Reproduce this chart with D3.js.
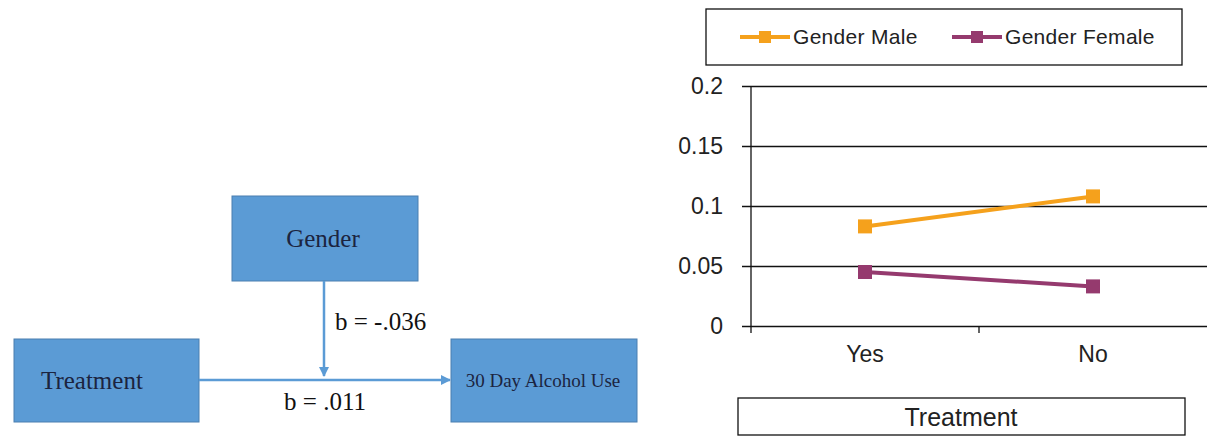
<!DOCTYPE html>
<html>
<head>
<meta charset="utf-8">
<script src="https://cdn.jsdelivr.net/npm/d3@7"></script>
<style>
  html, body { margin: 0; padding: 0; background: #fff; }
  svg { display: block; }
</style>
</head>
<body>
<svg id="chart" width="1217" height="445"></svg>
<script>
// Moderation path diagram (left) and interaction plot (right)

// Interaction plot data
const categories = ["Yes", "No"];
const seriesNames = ["Gender Male", "Gender Female"];
const maleValues = [0.083, 0.108];
const femaleValues = [0.045, 0.033];
const yTicks = [0, 0.05, 0.1, 0.15, 0.2];
const yTickLabels = ["0", "0.05", "0.1", "0.15", "0.2"];
const xAxisTitle = "Treatment";

// Path diagram content
const diagramNodes = ["Gender", "Treatment", "30 Day Alcohol Use"];
const pathLabels = ["b = -.036", "b = .011"];

const svg = d3.select("#chart");
const sansFont = "'Liberation Sans', Arial, sans-serif";
const serifFont = "'Liberation Serif', 'Times New Roman', serif";
const colors = ["#F5A11C", "#953A6E"];
const boxFill = "#5B9BD5";
const boxStroke = "#4A7FB0";
const boxText = "#1B2440";

// ---------- Path diagram ----------
const diag = svg.append("g");
const defs = svg.append("defs");
defs.append("marker")
  .attr("id", "arrowhead")
  .attr("viewBox", "0 0 10 10")
  .attr("refX", 9).attr("refY", 5)
  .attr("markerWidth", 4).attr("markerHeight", 4)
  .attr("orient", "auto")
  .append("path")
  .attr("d", "M0,0 L10,5 L0,10 z")
  .attr("fill", boxFill);

const boxes = [
  { name: diagramNodes[0], x: 232, y: 196, w: 186, h: 85, size: 25, tx: 323, anchor: "middle" },
  { name: diagramNodes[1], x: 14, y: 339, w: 185, h: 83, size: 25, tx: 41, anchor: "start" },
  { name: diagramNodes[2], x: 451, y: 339, w: 186, h: 83, size: 19, tx: 543, anchor: "middle" }
];

diag.selectAll("rect.node").data(boxes).join("rect")
  .attr("class", "node")
  .attr("x", d => d.x).attr("y", d => d.y)
  .attr("width", d => d.w).attr("height", d => d.h)
  .attr("fill", boxFill)
  .attr("stroke", boxStroke)
  .attr("stroke-width", 1);

diag.selectAll("text.node").data(boxes).join("text")
  .attr("class", "node")
  .attr("x", d => d.tx)
  .attr("y", d => d.y + d.h / 2)
  .attr("dy", "0.35em")
  .attr("text-anchor", d => d.anchor)
  .attr("font-family", serifFont)
  .attr("font-size", d => d.size)
  .attr("fill", boxText)
  .text(d => d.name);

// Treatment -> outcome
diag.append("line")
  .attr("x1", 199).attr("y1", 380)
  .attr("x2", 450).attr("y2", 380)
  .attr("stroke", boxFill).attr("stroke-width", 2.5)
  .attr("marker-end", "url(#arrowhead)");

// Gender -> path (moderator)
diag.append("line")
  .attr("x1", 324).attr("y1", 281)
  .attr("x2", 324).attr("y2", 376)
  .attr("stroke", boxFill).attr("stroke-width", 2.5)
  .attr("marker-end", "url(#arrowhead)");

diag.append("text")
  .attr("x", 335).attr("y", 330)
  .attr("font-family", serifFont).attr("font-size", 25)
  .attr("fill", "#111")
  .text(pathLabels[0]);

diag.append("text")
  .attr("x", 325).attr("y", 410)
  .attr("text-anchor", "middle")
  .attr("font-family", serifFont).attr("font-size", 25)
  .attr("fill", "#111")
  .text(pathLabels[1]);

// ---------- Interaction plot ----------
const plot = { left: 751, right: 1207, top: 86, bottom: 326 };

const x = d3.scaleBand()
  .domain(categories)
  .range([plot.left, plot.right])
  .paddingInner(0).paddingOuter(0);

const y = d3.scaleLinear()
  .domain([0, 0.2])
  .range([plot.bottom, plot.top]);

// Gridlines with left tick marks and labels
const yAxis = d3.axisLeft(y)
  .tickValues(yTicks)
  .tickFormat((d, i) => yTickLabels[i])
  .tickSize(-(plot.right - plot.left + 9))
  .tickPadding(19);

const gy = svg.append("g")
  .attr("transform", `translate(${plot.left - 9},0)`)
  .call(yAxis);
gy.select(".domain").remove();
gy.selectAll(".tick line").attr("stroke", "#111").attr("stroke-width", 1.3);
gy.selectAll(".tick text")
  .attr("font-family", sansFont)
  .attr("font-size", 23)
  .attr("fill", "#222");

// Vertical axis line
svg.append("line")
  .attr("x1", plot.left).attr("x2", plot.left)
  .attr("y1", plot.top).attr("y2", plot.bottom + 7)
  .attr("stroke", "#111").attr("stroke-width", 1.3);

// Category axis: ticks at band edges, labels at band centres
const xAxis = d3.axisBottom(x).tickSize(0).tickPadding(20);
const gx = svg.append("g")
  .attr("transform", `translate(0,${plot.bottom})`)
  .call(xAxis);
gx.select(".domain").remove();
gx.selectAll(".tick text")
  .attr("font-family", sansFont)
  .attr("font-size", 23)
  .attr("fill", "#222");

const edges = categories.map(c => x(c)).concat([x(categories[categories.length - 1]) + x.bandwidth()]);
svg.append("g").selectAll("line").data(edges.slice(1, -1)).join("line")
  .attr("x1", d => d).attr("x2", d => d)
  .attr("y1", plot.bottom).attr("y2", plot.bottom + 7)
  .attr("stroke", "#111").attr("stroke-width", 1.3);

// Series
const series = [
  { name: seriesNames[0], values: maleValues, color: colors[0] },
  { name: seriesNames[1], values: femaleValues, color: colors[1] }
];
const cx = c => x(c) + x.bandwidth() / 2;
const line = d3.line().x(d => cx(d.cat)).y(d => y(d.v));

series.forEach(s => {
  const pts = categories.map((c, i) => ({ cat: c, v: s.values[i] }));
  svg.append("path")
    .datum(pts)
    .attr("d", line)
    .attr("fill", "none")
    .attr("stroke", s.color)
    .attr("stroke-width", 4);
  svg.append("g").selectAll("rect").data(pts).join("rect")
    .attr("x", d => cx(d.cat) - 7)
    .attr("y", d => y(d.v) - 7)
    .attr("width", 14).attr("height", 14)
    .attr("fill", s.color);
});

// Legend
svg.append("rect")
  .attr("x", 706).attr("y", 9)
  .attr("width", 476).attr("height", 56)
  .attr("fill", "#fff")
  .attr("stroke", "#111").attr("stroke-width", 1.3);

const legendItems = [
  { s: series[0], x0: 740 },
  { s: series[1], x0: 952 }
];
const lg = svg.append("g");
legendItems.forEach(it => {
  lg.append("line")
    .attr("x1", it.x0).attr("x2", it.x0 + 50)
    .attr("y1", 37).attr("y2", 37)
    .attr("stroke", it.s.color).attr("stroke-width", 4);
  lg.append("rect")
    .attr("x", it.x0 + 25 - 6).attr("y", 37 - 6)
    .attr("width", 12).attr("height", 12)
    .attr("fill", it.s.color);
  lg.append("text")
    .attr("x", it.x0 + 53).attr("y", 37)
    .attr("dy", "0.35em")
    .attr("font-family", sansFont)
    .attr("font-size", 21)
    .attr("letter-spacing", 0.3)
    .attr("fill", "#222")
    .text(it.s.name);
});

// Axis title box
svg.append("rect")
  .attr("x", 738).attr("y", 398)
  .attr("width", 447).attr("height", 37)
  .attr("fill", "#fff")
  .attr("stroke", "#111").attr("stroke-width", 1.3);
svg.append("text")
  .attr("x", 961).attr("y", 417)
  .attr("dy", "0.35em")
  .attr("text-anchor", "middle")
  .attr("font-family", sansFont)
  .attr("font-size", 25)
  .attr("fill", "#222")
  .text(xAxisTitle);
</script>
</body>
</html>
